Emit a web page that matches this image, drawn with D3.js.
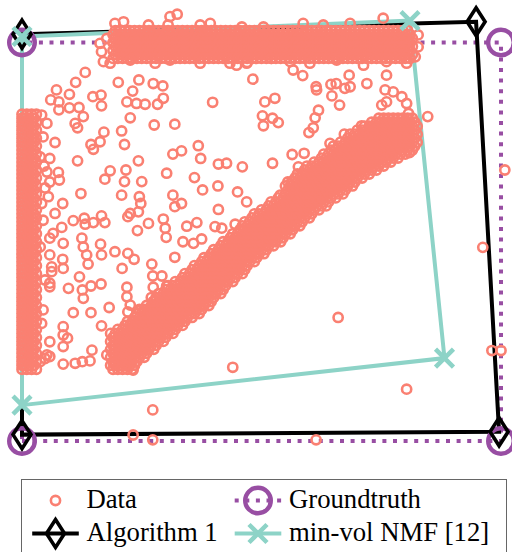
<!DOCTYPE html>
<html>
<head>
<meta charset="utf-8">
<script src="https://cdn.jsdelivr.net/npm/d3@7"></script>
<style>
  html, body { margin: 0; padding: 0; background: #fff; }
  svg { display: block; font-family: "Liberation Serif", "DejaVu Serif", serif; }
</style>
</head>
<body>
<script>
// polygons (vertices in data units, groundtruth is the unit square x100)
const groundtruth = [[0, 0], [100, 0], [100, 100], [0, 100]];
const algorithm1 = [[0, 102.1], [94.8, 105.2], [99.6, 2.3], [0, 1.6]];
const minVolNMF = [[0, 101.5], [81.0, 105.5], [88.2, 20.8], [0, 9.0]];

// dense band on the left edge: [x, [y...]]
const leftBand = [
  [0, [18,19,20,21,22,23,24,25,26,27,28,29,30,31,32,33,34,35,36,37,38,39,40,41,42,43,44,45,46,47,48,49,50,51,52,53,54,55,56,57,58,59,60,61,62,63,64,65,66,67,68,69,70,71,72,73,74,75,76,77,78,79,80,81,82]],
  [1, [18,20,22,24,26,28,30,32,34,36,38,40,42,44,46,48,50,52,54,56,58,60,62,64,66,68,70,72,74,76,78,80,82]],
  [2, [18,20,22,24,26,28,30,32,34,36,38,40,42,44,46,48,50,52,54,56,58,60,62,64,66,68,70,72,74,76,78,80,82]],
  [3, [18,20,22,24,26,28,30,32,34,36,38,40,42,44,46,48,50,52,54,56,58,60,62,64,66,68,70,72,74,76,78,80,82]],
  [0.5, [19,21,23,25,27,29,31,33,35,37,39,41,43,45,47,49,51,53,55,57,59,61,63,65,67,69,71,73,75,77,79,81]],
  [1.5, [19,21,23,25,27,29,31,33,35,37,39,41,43,45,47,49,51,53,55,57,59,61,63,65,67,69,71,73,75,77,79,81]],
  [2.5, [19,21,23,25,27,29,31,33,35,37,39,41,43,45,47,49,51,53,55,57,59,61,63,65,67,69,71,73,75,77,79,81]]
];

// dense band along the top edge: [y, [x...]]
const topBand = [
  [103, [19.5,20.5,21.5,22.5,23.5,24.5,25.5,26.5,27.5,28.5,29.5,30.5,31.5,32.5,33.5,34.5,35.5,36.5,37.5,38.5,39.5,40.5,41.5,42.5,43.5,44.5,45.5,46.5,47.5,48.5,49.5,50.5,51.5,52.5,53.5,54.5,55.5,56.5,57.5,58.5,59.5,60.5,61.5,62.5,63.5,64.5,65.5,66.5,67.5,68.5,69.5,70.5,71.5,72.5,73.5,74.5,75.5,76.5,77.5,78.5,79.5,80.5]],
  [102, [19,20,21,22,23,24,25,26,27,28,29,30,31,32,33,34,35,36,37,38,39,40,41,42,43,44,45,46,47,48,49,50,51,52,53,54,55,56,57,58,59,60,61,62,63,64,65,66,67,68,69,70,71,72,73,74,75,76,77,78,79,80,81]],
  [101, [19.5,20.5,21.5,22.5,23.5,24.5,25.5,26.5,27.5,28.5,29.5,30.5,31.5,32.5,33.5,34.5,35.5,36.5,37.5,38.5,39.5,40.5,41.5,42.5,43.5,44.5,45.5,46.5,47.5,48.5,49.5,50.5,51.5,52.5,53.5,54.5,55.5,56.5,57.5,58.5,59.5,60.5,61.5,62.5,63.5,64.5,65.5,66.5,67.5,68.5,69.5,70.5,71.5,72.5,73.5,74.5,75.5,76.5,77.5,78.5,79.5,80.5,81.5]],
  [100, [19,20,21,22,23,24,25,26,27,28,29,30,31,32,33,34,35,36,37,38,39,40,41,42,43,44,45,46,47,48,49,50,51,52,53,54,55,56,57,58,59,60,61,62,63,64,65,66,67,68,69,70,71,72,73,74,75,76,77,78,79,80,81]],
  [99, [19.5,20.5,21.5,22.5,23.5,24.5,25.5,26.5,27.5,28.5,29.5,30.5,31.5,32.5,33.5,34.5,35.5,36.5,37.5,38.5,39.5,40.5,41.5,42.5,43.5,44.5,45.5,46.5,47.5,48.5,49.5,50.5,51.5,52.5,53.5,54.5,55.5,56.5,57.5,58.5,59.5,60.5,61.5,62.5,63.5,64.5,65.5,66.5,67.5,68.5,69.5,70.5,71.5,72.5,73.5,74.5,75.5,76.5,77.5,78.5,79.5,80.5,81.5]],
  [98, [19,20,21,22,23,24,25,26,27,28,29,30,31,32,33,34,35,36,37,38,39,40,41,42,43,44,45,46,47,48,49,50,51,52,53,54,55,56,57,58,59,60,61,62,63,64,65,66,67,68,69,70,71,72,73,74,75,76,77,78,79,80,81]],
  [97, [19.5,20.5,21.5,22.5,23.5,24.5,25.5,26.5,27.5,28.5,29.5,30.5,31.5,32.5,33.5,34.5,35.5,36.5,37.5,38.5,39.5,40.5,41.5,42.5,43.5,44.5,45.5,46.5,47.5,48.5,49.5,50.5,51.5,52.5,53.5,54.5,55.5,56.5,57.5,58.5,59.5,60.5,61.5,62.5,63.5,64.5,65.5,66.5,67.5,68.5,69.5,70.5,71.5,72.5,73.5,74.5,75.5,76.5,77.5,78.5,79.5,80.5,81.5]],
  [96, [19,20,21,22,23,24,25,26,27,28,29,30,31,32,33,34,35,36,37,38,39,40,41,42,43,44,45,46,47,48,49,50,51,52,53,54,55,56,57,58,59,60,61,62,63,64,65,66,67,68,69,70,71,72,73,74,75,76,77,78,79,80,81]]
];

// diagonal band: [y, [x...]]
const diagBand = [
  [18, [19,20,21,22,23]],
  [19, [18.5,19.5,20.5,21.5,22.5,23.5]],
  [20, [19,20,21,22,23,24]],
  [21, [18.5,19.5,20.5,21.5,22.5,23.5,24.5,25.5]],
  [22, [19,20,21,22,23,24,25,26]],
  [23, [18.5,19.5,20.5,21.5,22.5,23.5,24.5,25.5,26.5,27.5]],
  [24, [19,20,21,22,23,24,25,26,27,28]],
  [25, [18.5,19.5,20.5,21.5,22.5,23.5,24.5,25.5,26.5,27.5,28.5,29.5]],
  [26, [19,20,21,22,23,24,25,26,27,28,29,30]],
  [27, [18.5,19.5,20.5,21.5,22.5,23.5,24.5,25.5,26.5,27.5,28.5,29.5,30.5,31.5]],
  [28, [20,21,22,23,24,25,26,27,28,29,30,31,32]],
  [29, [21.5,22.5,23.5,24.5,25.5,26.5,27.5,28.5,29.5,30.5,31.5,32.5,33.5]],
  [30, [22,23,24,25,26,27,28,29,30,31,32,33,34]],
  [31, [23.5,24.5,25.5,26.5,27.5,28.5,29.5,30.5,31.5,32.5,33.5,34.5,35.5]],
  [32, [24,25,26,27,28,29,30,31,32,33,34,35,36,37]],
  [33, [24.5,25.5,26.5,27.5,28.5,29.5,30.5,31.5,32.5,33.5,34.5,35.5,36.5,37.5]],
  [34, [26,27,28,29,30,31,32,33,34,35,36,37,38,39]],
  [35, [27.5,28.5,29.5,30.5,31.5,32.5,33.5,34.5,35.5,36.5,37.5,38.5,39.5]],
  [36, [27,28,29,30,31,32,33,34,35,36,37,38,39,40]],
  [37, [28.5,29.5,30.5,31.5,32.5,33.5,34.5,35.5,36.5,37.5,38.5,39.5,40.5,41.5]],
  [38, [30,31,32,33,34,35,36,37,38,39,40,41,42]],
  [39, [30.5,31.5,32.5,33.5,34.5,35.5,36.5,37.5,38.5,39.5,40.5,41.5,42.5]],
  [40, [32,33,34,35,36,37,38,39,40,41,42,43,44]],
  [41, [33.5,34.5,35.5,36.5,37.5,38.5,39.5,40.5,41.5,42.5,43.5,44.5]],
  [42, [34,35,36,37,38,39,40,41,42,43,44,45,46]],
  [43, [35.5,36.5,37.5,38.5,39.5,40.5,41.5,42.5,43.5,44.5,45.5,46.5]],
  [44, [36,37,38,39,40,41,42,43,44,45,46,47]],
  [45, [37.5,38.5,39.5,40.5,41.5,42.5,43.5,44.5,45.5,46.5,47.5,48.5]],
  [46, [38,39,40,41,42,43,44,45,46,47,48,49]],
  [47, [39.5,40.5,41.5,42.5,43.5,44.5,45.5,46.5,47.5,48.5,49.5,50.5]],
  [48, [40,41,42,43,44,45,46,47,48,49,50,51]],
  [49, [41.5,42.5,43.5,44.5,45.5,46.5,47.5,48.5,49.5,50.5,51.5,52.5]],
  [50, [42,43,44,45,46,47,48,49,50,51,52,53,54]],
  [51, [43.5,44.5,45.5,46.5,47.5,48.5,49.5,50.5,51.5,52.5,53.5,54.5]],
  [52, [44,45,46,47,48,49,50,51,52,53,54,55,56]],
  [53, [45.5,46.5,47.5,48.5,49.5,50.5,51.5,52.5,53.5,54.5,55.5,56.5]],
  [54, [46,47,48,49,50,51,52,53,54,55,56,57,58]],
  [55, [46.5,47.5,48.5,49.5,50.5,51.5,52.5,53.5,54.5,55.5,56.5,57.5,58.5]],
  [56, [48,49,50,51,52,53,54,55,56,57,58,59,60]],
  [57, [48.5,49.5,50.5,51.5,52.5,53.5,54.5,55.5,56.5,57.5,58.5,59.5,60.5]],
  [58, [50,51,52,53,54,55,56,57,58,59,60,61,62]],
  [59, [51.5,52.5,53.5,54.5,55.5,56.5,57.5,58.5,59.5,60.5,61.5,62.5,63.5]],
  [60, [52,53,54,55,56,57,58,59,60,61,62,63,64]],
  [61, [53.5,54.5,55.5,56.5,57.5,58.5,59.5,60.5,61.5,62.5,63.5,64.5,65.5]],
  [62, [55,56,57,58,59,60,61,62,63,64,65,66,67]],
  [63, [55.5,56.5,57.5,58.5,59.5,60.5,61.5,62.5,63.5,64.5,65.5,66.5,67.5]],
  [64, [55,56,57,58,59,60,61,62,63,64,65,66,67,68,69]],
  [65, [55.5,56.5,57.5,58.5,59.5,60.5,61.5,62.5,63.5,64.5,65.5,66.5,67.5,68.5,69.5]],
  [66, [57,58,59,60,61,62,63,64,65,66,67,68,69,70,71]],
  [67, [57.5,58.5,59.5,60.5,61.5,62.5,63.5,64.5,65.5,66.5,67.5,68.5,69.5,70.5,71.5,72.5]],
  [68, [59,60,61,62,63,64,65,66,67,68,69,70,71,72,73,74]],
  [69, [59.5,60.5,61.5,62.5,63.5,64.5,65.5,66.5,67.5,68.5,69.5,70.5,71.5,72.5,73.5,74.5,75.5]],
  [70, [61,62,63,64,65,66,67,68,69,70,71,72,73,74,75,76,77]],
  [71, [62.5,63.5,64.5,65.5,66.5,67.5,68.5,69.5,70.5,71.5,72.5,73.5,74.5,75.5,76.5,77.5,78.5]],
  [72, [63,64,65,66,67,68,69,70,71,72,73,74,75,76,77,78,79,80]],
  [73, [64.5,65.5,66.5,67.5,68.5,69.5,70.5,71.5,72.5,73.5,74.5,75.5,76.5,77.5,78.5,79.5,80.5,81.5]],
  [74, [65,66,67,68,69,70,71,72,73,74,75,76,77,78,79,80,81,82]],
  [75, [66.5,67.5,68.5,69.5,70.5,71.5,72.5,73.5,74.5,75.5,76.5,77.5,78.5,79.5,80.5,81.5,82.5]],
  [76, [68,69,70,71,72,73,74,75,76,77,78,79,80,81,82]],
  [77, [68.5,69.5,70.5,71.5,72.5,73.5,74.5,75.5,76.5,77.5,78.5,79.5,80.5,81.5,82.5]],
  [78, [70,71,72,73,74,75,76,77,78,79,80,81,82]],
  [79, [71.5,72.5,73.5,74.5,75.5,76.5,77.5,78.5,79.5,80.5,81.5,82.5]],
  [80, [73,74,75,76,77,78,79,80,81,82]],
  [81, [74.5,75.5,76.5,77.5,78.5,79.5,80.5,81.5]]
];

// loose points inside the triangle and along the band edges: [x, y]
const interior = [
  [13.2,92.5],[11.2,90.0],[20.1,90.0],[24.4,90.6],[27.4,89.7],[29.4,89.1],[7.2,88.1],[9.9,87.0],[6.0,85.6],[7.7,85.1],
  [7.7,83.1],[9.9,83.6],[11.9,83.7],[14.8,86.4],[16.5,86.8],[16.6,84.1],[23.1,87.8],[21.9,85.1],[23.9,84.7],[25.7,84.5],
  [28.3,84.5],[29.5,86.0],[39.8,85.0],[12.8,81.4],[11.1,79.7],[11.6,78.6],[22.6,81.1],[27.6,79.3],[31.9,79.5],[20.8,77.8],
  [17.1,77.5],[16.3,75.1],[14.4,74.4],[14.9,73.2],[21.4,74.4],[6.9,74.9],[36.8,74.1],[31.5,72.0],[33.3,72.8],[37.3,70.9],
  [11.6,70.3],[24.3,70.3],[41.0,69.5],[42.7,69.7],[5.8,70.9],[7.6,67.4],[7.8,65.5],[18.4,67.8],[21.7,68.0],[17.3,65.7],
  [21.4,65.1],[25.0,65.1],[30.2,67.2],[36.0,66.1],[40.9,64.0],[12.3,62.1],[5.5,61.3],[20.8,61.7],[24.5,61.3],[31.5,61.7],
  [37.7,63.0],[8.5,59.6],[24.8,59.6],[33.3,59.6],
  [4.1,81.8],[5.2,79.7],[4.4,76.3],[3.8,71.3],[4.1,59.6],[4.4,55.4],[6.9,57.1],[4.6,69.0],[5.2,67.5],[5.8,65.0],[4.8,63.5],
  [48.2,90.8],[56.6,93.1],[58.6,91.7],[61.4,88.9],[61.5,88.1],[64.5,89.5],[65.6,89.7],[68.3,91.8],[68.5,88.9],[67.4,88.5],
  [72.0,89.7],[76.1,91.8],[64.7,86.6],[66.3,84.3],[50.7,85.1],[52.8,86.0],[50.2,81.6],[50.4,79.1],[52.3,81.0],[53.5,79.9],
  [61.9,83.0],[61.2,81.1],[60.8,78.6],[59.9,77.4],[75.8,88.1],[77.5,87.6],[75.1,84.3],[76.1,85.1],[79.3,86.4],[80.3,84.7],
  [80.7,82.2],[84.7,81.4],[67.3,77.0],[64.3,74.7],[70.9,79.1],[56.4,71.9],[58.9,72.2],[46.0,68.8],[52.3,69.7],[57.7,68.8],
  [77.0,71.8],[80.9,72.4],[45.0,62.5],[46.9,60.0],[53.9,61.7],[56.3,65.1],[56.6,63.4],
  [10.7,55.3],[13.0,55.9],[13.2,54.4],[14.9,54.8],[16.6,56.5],[17.3,54.8],[8.3,53.6],[6.5,52.1],[8.6,49.6],[12.5,50.9],
  [12.8,48.7],[16.4,49.4],[13.5,46.7],[13.8,44.4],[16.6,46.7],[19.4,47.5],[22.1,47.1],[23.4,45.6],[8.5,45.6],[8.6,43.3],
  [6.2,42.5],[5.8,39.6],[20.9,43.3],[12.0,41.2],[9.7,38.3],[12.6,37.9],[12.8,35.8],[14.4,38.9],[16.5,39.4],[22.1,56.3],
  [22.6,57.1],[24.3,57.5],[26.4,54.6],[24.1,52.8],[29.5,55.7],[29.9,53.4],[30.1,51.1],[31.9,58.8],[41.0,58.1],[34.4,53.9],
  [36.5,54.8],[33.6,50.0],[35.8,49.6],[37.5,50.7],[31.9,46.1],[27.1,44.4],[27.3,41.4],[29.2,41.4],[27.4,38.6],[30.2,38.9],
  [21.9,38.6],[21.9,36.2],[22.6,34.1],[18.2,33.5],[14.4,32.2],[10.7,32.2],[22.1,32.4],[24.6,32.7],[27.4,35.0],[8.6,28.7],
  [8.6,26.6],[9.5,25.8],[16.6,28.9],[5.8,24.9],[8.6,23.7],[14.6,22.8],[14.2,20.1],[12.6,19.9],[11.1,19.5],[8.6,19.3],
  [5.8,21.2],[40.3,53.8],[41.7,53.4],[44.5,54.4],[4.8,20.7],
  [5.8,50.9],[3.8,48.7],[5.8,46.7],[6.2,43.7],[4.8,40.4],[5.8,38.7],[4.4,32.9],[4.1,29.5],[5.2,21.6],[3.8,19.9],
  [19.1,19.5],[23.2,17.8],[17.7,21.6]
];

// ragged rim of the top band: [x, y]
const topRim = [
  [19.4,104.8],[21.2,105.2],[26.4,104.4],[30.9,106.5],[32.4,107.1],[30.5,104.4],[37.2,104.4],[39.3,104.8],[45.9,103.9],[50.4,103.9],
  [58.7,104.8],[62.9,104.4],[68.5,104.8],[75.4,106.1],[82.7,101.9],[82.7,98.9],[82.1,96.4],[17.0,95.2],[18.4,94.8],[22.6,95.6],
  [27.8,94.8],[30.9,95.6],[37.2,94.8],[43.4,94.8],[46.9,94.8],[52.1,96.0],[56.0,95.2],[60.1,94.8],[65.7,95.6],[71.3,94.3],
  [76.1,95.2],[80.3,94.8],[16.3,99.8],[16.6,97.7],[17.7,101.0],[44.8,94.3],[47.0,95.0]
];

// isolated points outside the bands: [x, y]
const outliers = [
  [44.0,18.5],[27.3,7.8],[23.2,1.5],[27.3,0.3],[61.4,0.3],[66.0,31.0],[80.3,13.0],[96.2,48.6],[98.1,22.7],[100.0,22.7],[100.8,68.0]
];

const legendLabels = ["Data", "Groundtruth", "Algorithm 1", "min-vol NMF [12]"];

const data = [
  ...leftBand.flatMap(([x, ys]) => ys.map(y => [x, y])),
  ...topBand.flatMap(([y, xs]) => xs.map(x => [x, y])),
  ...diagBand.flatMap(([y, xs]) => xs.map(x => [x, y])),
  ...interior, ...topRim, ...outliers
];

const width = 512, height = 552;
const dataColor = "#fa8072";
const dotR = 4.6, dotW = 2.6;

const series = [
  {name: legendLabels[1], pts: groundtruth, color: "#984ea3", dash: "4,6.6", marker: "circle"},
  {name: legendLabels[2], pts: algorithm1, color: "#000", dash: null, marker: "diamond"},
  {name: legendLabels[3], pts: minVolNMF, color: "#8dd3c7", dash: null, marker: "cross"}
];

const x = d3.scaleLinear().domain([0, 100]).range([22, 501]);
const y = d3.scaleLinear().domain([0, 100]).range([441, 42.5]);

const svg = d3.select("body").append("svg")
    .attr("width", width)
    .attr("height", height);

const line = d3.line()
    .x(d => x(d[0]))
    .y(d => y(d[1]))
    .curve(d3.curveLinearClosed);

function marker(g, type, color) {
  if (type === "circle") {
    g.append("circle").attr("r", 12.8)
      .attr("fill", "none").attr("stroke", color).attr("stroke-width", 4.4);
  } else if (type === "diamond") {
    g.append("path").attr("d", "M0,-14L9,0L0,14L-9,0Z")
      .attr("fill", "none").attr("stroke", color).attr("stroke-width", 3.6);
  } else if (type === "cross") {
    g.append("path").attr("d", "M-9,-9L9,9M-9,9L9,-9")
      .attr("fill", "none").attr("stroke", color).attr("stroke-width", 4.5);
  } else {
    g.append("circle").attr("r", dotR)
      .attr("fill", "none").attr("stroke", color).attr("stroke-width", dotW);
  }
}

// polygon edges under the data
svg.append("g").selectAll("path")
  .data(series)
  .join("path")
    .attr("d", d => line(d.pts))
    .attr("fill", "none")
    .attr("stroke", d => d.color)
    .attr("stroke-width", 4)
    .attr("stroke-dasharray", d => d.dash);

svg.append("g").selectAll("circle")
  .data(data)
  .join("circle")
    .attr("cx", d => x(d[0]))
    .attr("cy", d => y(d[1]))
    .attr("r", dotR)
    .attr("fill", "none")
    .attr("stroke", dataColor)
    .attr("stroke-width", dotW);

// vertex markers on top
series.forEach(s => {
  s.pts.forEach(p => {
    const g = svg.append("g").attr("transform", `translate(${x(p[0])},${y(p[1])})`);
    marker(g, s.marker, s.color);
  });
});

// legend
const legend = svg.append("g");
legend.append("rect")
    .attr("x", 21.5).attr("y", 479.5)
    .attr("width", 485).attr("height", 90)
    .attr("fill", "#fff")
    .attr("stroke", "#666")
    .attr("stroke-width", 1);

const items = [
  {label: legendLabels[0], cx: 55.5, cy: 500.5, color: dataColor, dash: null, marker: "dot", noLine: true},
  {label: series[0].name, cx: 258, cy: 500.5, color: series[0].color, dash: series[0].dash, marker: series[0].marker},
  {label: series[1].name, cx: 55.5, cy: 533.5, color: series[1].color, dash: null, marker: series[1].marker},
  {label: series[2].name, cx: 258, cy: 533.5, color: series[2].color, dash: null, marker: series[2].marker}
];

items.forEach(it => {
  if (!it.noLine) {
    legend.append("line")
      .attr("x1", it.cx - 23.3).attr("x2", it.cx + 23.3)
      .attr("y1", it.cy).attr("y2", it.cy)
      .attr("stroke", it.color).attr("stroke-width", 4)
      .attr("stroke-dasharray", it.dash);
  }
  const g = legend.append("g").attr("transform", `translate(${it.cx},${it.cy})`);
  marker(g, it.marker, it.color);
  legend.append("text")
    .attr("x", it.cx + 31)
    .attr("y", it.cy + 7.5)
    .attr("font-size", 26.7)
    .attr("fill", "#000")
    .text(it.label);
});
</script>
</body>
</html>
